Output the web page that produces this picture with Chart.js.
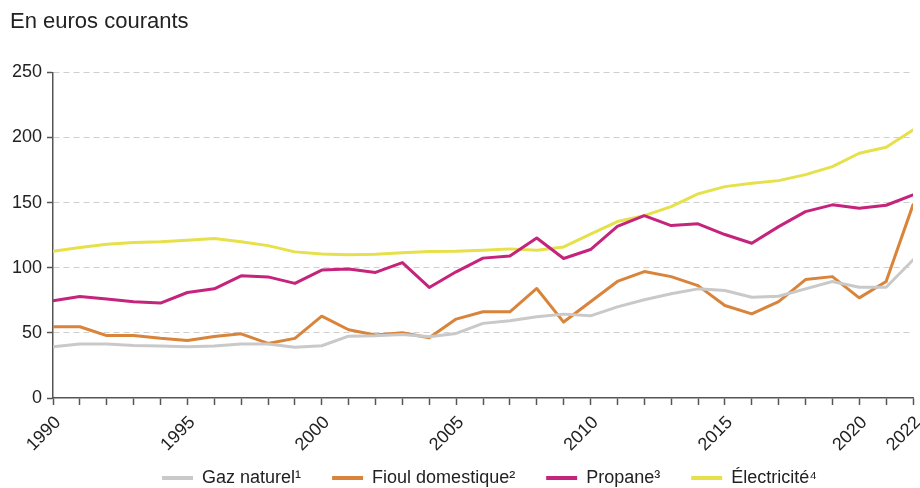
<!DOCTYPE html>
<html>
<head>
<meta charset="utf-8">
<script src="https://cdn.jsdelivr.net/npm/chart.js@4.4.1/dist/chart.umd.min.js"></script>
<style>
  html, body { margin: 0; padding: 0; background: #fff; }
  #wrap { width: 920px; height: 488px; position: relative; }
</style>
</head>
<body>
<div id="wrap"><canvas id="chart"></canvas></div>
<script>
// Prix annuels des énergies domestiques, en euros courants
const years = [1990, 1991, 1992, 1993, 1994, 1995, 1996, 1997, 1998, 1999,
               2000, 2001, 2002, 2003, 2004, 2005, 2006, 2007, 2008, 2009,
               2010, 2011, 2012, 2013, 2014, 2015, 2016, 2017, 2018, 2019,
               2020, 2021, 2022];

const gazNaturel = [39.4, 41.4, 41.4, 40.4, 39.9, 39.4, 39.9, 41.4, 41.4, 38.9,
                    40.1, 47.5, 47.8, 48.8, 47.0, 49.6, 57.3, 59.3, 62.4, 64.4,
                    63.1, 70.0, 75.4, 80.0, 83.8, 82.5, 77.4, 78.1, 83.8, 89.4,
                    85.0, 85.0, 106.0];

const fioulDomestique = [54.7, 54.7, 47.9, 47.9, 45.8, 44.2, 47.3, 49.3, 41.9, 45.8,
                         62.8, 52.4, 48.3, 50.1, 46.2, 60.6, 66.2, 66.2, 84.1, 58.3,
                         73.9, 89.5, 97.1, 93.2, 86.3, 71.0, 64.6, 74.0, 90.9, 93.2,
                         76.9, 89.4, 148.3];

const propane = [74.6, 78.0, 76.0, 73.9, 72.9, 81.0, 83.8, 93.8, 93.0, 88.0,
                 98.2, 99.0, 96.4, 104.0, 84.9, 96.9, 107.4, 109.1, 122.9, 107.1,
                 114.0, 131.8, 140.0, 132.4, 133.7, 125.5, 118.8, 131.6, 143.1, 148.3,
                 145.7, 148.0, 155.9];

const electricite = [112.7, 115.5, 118.0, 119.4, 119.9, 121.2, 122.4, 120.0, 117.0, 112.2,
                     110.5, 109.9, 110.4, 111.5, 112.5, 112.7, 113.5, 114.5, 113.5, 116.0,
                     125.8, 135.5, 140.0, 147.0, 156.7, 162.3, 164.9, 166.9, 171.5, 177.7,
                     187.9, 192.5, 205.8];

const seriesNames = ['Gaz naturel¹', 'Fioul domestique²', 'Propane³', 'Électricité⁴'];
const labelledYears = [1990, 1995, 2000, 2005, 2010, 2015, 2020, 2022];
const yTicks = [0, 50, 100, 150, 200, 250];

const FONT = "'Liberation Sans', Arial, Helvetica, sans-serif";
Chart.defaults.font.family = FONT;
Chart.defaults.color = '#222';

const AXIS = '#555';

const toPoints = vals => years.map((y, i) => ({ x: y, y: vals[i] }));

function series(label, vals, color) {
  return {
    label,
    data: toPoints(vals),
    borderColor: color,
    backgroundColor: color,
    borderWidth: 3,
    pointRadius: 0,
    pointHoverRadius: 0,
    tension: 0,
    borderJoinStyle: 'round',
    borderCapStyle: 'round'
  };
}

// Let the rotated year labels run below the axis box, and centre the legend under the plot
const layoutTweaks = {
  id: 'layoutTweaks',
  afterLayout(chart) {
    chart.scales.x.bottom = chart.height;
    chart.legend.left += 56;
  }
};

new Chart(document.getElementById('chart'), {
  type: 'line',
  data: {
    datasets: [
      series(seriesNames[0], gazNaturel, '#c9c9c9'),
      series(seriesNames[1], fioulDomestique, '#d8843a'),
      series(seriesNames[2], propane, '#c4247c'),
      series(seriesNames[3], electricite, '#e6e04a')
    ]
  },
  plugins: [layoutTweaks],
  options: {
    responsive: true,
    maintainAspectRatio: false,
    animation: false,
    layout: { padding: { left: 10, right: 7, top: 0, bottom: 0 } },
    plugins: {
      tooltip: { enabled: false },
      title: {
        display: true,
        text: 'En euros courants',
        align: 'start',
        color: '#222',
        font: { size: 22, weight: 'normal' },
        padding: { top: 9, bottom: 37 }
      },
      legend: {
        position: 'bottom',
        maxHeight: 50,
        labels: {
          boxWidth: 31,
          boxHeight: 4,
          padding: 31,
          color: '#222',
          font: { size: 18 },
          generateLabels(chart) {
            const items = Chart.defaults.plugins.legend.labels.generateLabels(chart);
            items.forEach(it => { it.lineWidth = 0; it.fillStyle = it.strokeStyle; });
            return items;
          }
        }
      }
    },
    scales: {
      x: {
        type: 'linear',
        min: 1990,
        max: 2022,
        afterBuildTicks: s => { s.ticks = years.map(v => ({ value: v })); },
        afterFit: s => { s.height = 40; s.paddingLeft = 0; s.paddingRight = 0; },
        ticks: {
          autoSkip: false,
          minRotation: 45,
          maxRotation: 45,
          padding: 7,
          labelOffset: 5,
          color: '#222',
          font: { size: 18 },
          callback: v => (labelledYears.includes(v) ? String(v) : '')
        },
        grid: {
          drawOnChartArea: false,
          drawTicks: true,
          tickLength: 7,
          tickColor: AXIS,
          tickWidth: 1.5
        },
        border: { color: AXIS, width: 1.5 }
      },
      y: {
        min: 0,
        max: 250,
        afterBuildTicks: s => { s.ticks = yTicks.map(v => ({ value: v })); },
        afterFit: s => { s.width = 43; },
        ticks: {
          padding: 5,
          color: '#222',
          font: { size: 18 }
        },
        grid: {
          color: ctx => (ctx.tick && ctx.tick.value === 0 ? 'rgba(0,0,0,0)' : '#cfcfcf'),
          lineWidth: 1,
          tickLength: 6,
          tickColor: AXIS,
          tickWidth: 1.5,
          tickBorderDash: []
        },
        border: { color: AXIS, width: 1.5, dash: [6, 4] }
      }
    }
  }
});
</script>
</body>
</html>
